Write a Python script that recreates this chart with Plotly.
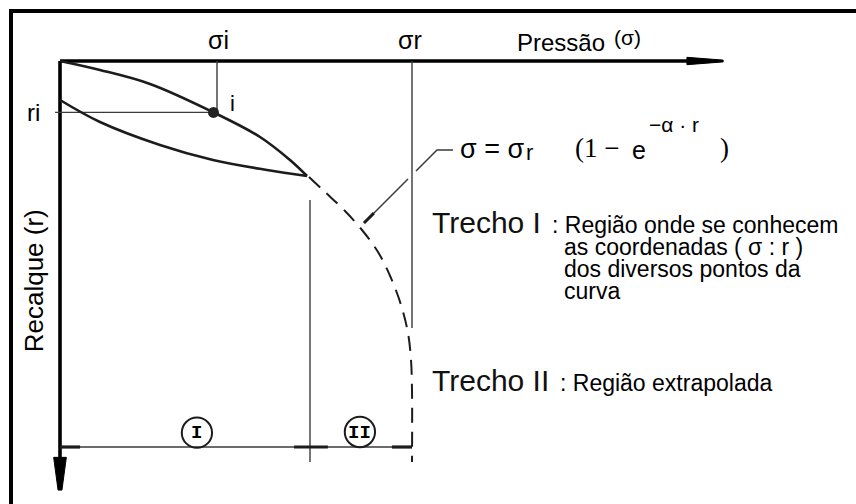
import plotly.graph_objects as go

# Diagram units: pressure sigma scaled so that sigma_r = 100, settlement r on the same scale.
SIGMA_R = 100.0
SIGMA_I = 44.6
R_I = 14.6

# Loading branch (sigma, r)
load_sigma = [0.0, 11.36, 25.57, 43.6, 56.82, 65.34, 70.17]
load_r = [0.0, 2.56, 6.53, 14.6, 21.59, 28.13, 32.67]

# Lower branch closing back to the settlement axis
lower_sigma = [0.0, 11.36, 28.41, 43.47, 58.81, 70.17]
lower_r = [11.08, 17.33, 23.86, 28.13, 30.97, 32.67]

# Extrapolated branch sigma = sigma_r (1 - e^(-alpha r))
extra_sigma = [70.74, 75.28, 80.97, 85.80, 90.34, 94.03, 96.88, 98.86, 99.72, 100.0, 100.0]
extra_r = [32.95, 37.22, 42.61, 48.01, 54.26, 61.65, 69.32, 77.27, 84.94, 93.47, 113.92]

# Reference lines
SIGMA_R_LINE_END = 75.85
BOUNDARY_SIGMA = 71.02
BOUNDARY_R = [39.5, 113.9]
DIM_R = 109.66
dim_ticks = [[0.0, 5.7], [66.5, 76.1], [94.3, 100.0]]

# Leader from the curve to the equation
leader_a_sigma = [111.65, 107.1, 101.14]
leader_a_r = [25.28, 25.28, 31.25]
leader_b_sigma = [98.86, 86.36]
leader_b_r = [33.52, 46.02]

# Axis extents
X_AXIS_END = 178.1
X_ARROW_TIP = 188.4
Y_AXIS_END = 112.6
Y_ARROW_TIP = 121.9

# Region markers
regions = [("I", 38.9, 105.6), ("II", 85.2, 105.4)]
CIRCLE_R = 4.3

# Description lines of the first stretch
trecho1_lines = ["as coordenadas ( σ : r )", "dos diversos pontos da", "curva"]

PX = 3.52  # pixels per diagram unit
X0, Y0 = 60, 61

fig = go.Figure()

INK = "#1c1c1c"
THIN = "#3a3a3a"


def line(xs, ys, width, color=INK, dash=None, shape="linear"):
    fig.add_trace(go.Scatter(x=xs, y=ys, mode="lines", hoverinfo="skip",
                             line=dict(color=color, width=width, dash=dash, shape=shape)))


# axes
line([0, X_AXIS_END], [0, 0], 3.6, "black")
line([0, 0], [0, Y_AXIS_END], 3.6, "black")
fig.add_trace(go.Scatter(x=[X_AXIS_END, X_ARROW_TIP, X_ARROW_TIP, X_AXIS_END, X_AXIS_END],
                         y=[-1.05, -0.25, 0.25, 1.05, -1.05], mode="lines", fill="toself",
                         fillcolor="black", line=dict(color="black", width=1), hoverinfo="skip"))
fig.add_trace(go.Scatter(x=[-1.8, 1.8, 0.55, -0.55, -1.8],
                         y=[Y_AXIS_END, Y_AXIS_END, Y_ARROW_TIP, Y_ARROW_TIP, Y_AXIS_END],
                         mode="lines", fill="toself", fillcolor="black",
                         line=dict(color="black", width=1), hoverinfo="skip"))

# guide lines
line([SIGMA_I, SIGMA_I], [0, R_I], 1.4, THIN)
line([-1.4, SIGMA_I], [R_I, R_I], 1.4, THIN)
line([SIGMA_R, SIGMA_R], [0, SIGMA_R_LINE_END], 1.4, THIN)
line([BOUNDARY_SIGMA, BOUNDARY_SIGMA], BOUNDARY_R, 1.4, THIN)
line([0, SIGMA_R], [DIM_R, DIM_R], 1.4, THIN)
for a, b in dim_ticks:
    line([a, b], [DIM_R, DIM_R], 3.2, INK)

# curves
line(load_sigma, load_r, 2.6, INK, shape="spline")
line(lower_sigma, lower_r, 2.6, INK, shape="spline")
line(extra_sigma, extra_r, 2.0, INK, dash="15px,9px", shape="spline")

# leader
line(leader_a_sigma, leader_a_r, 1.5, THIN)
line(leader_b_sigma, leader_b_r, 1.5, THIN)
line([leader_b_sigma[1], leader_b_sigma[1] + 2.8], [leader_b_r[1], leader_b_r[1] - 2.8], 3.0, INK)

# point i
fig.add_trace(go.Scatter(x=[SIGMA_I - 1.0], y=[R_I], mode="markers", hoverinfo="skip",
                         marker=dict(size=11, color="#222")))

SANS = "Liberation Sans, Arial, sans-serif"
SERIF = "Liberation Serif, Times New Roman, serif"
MONO = "Liberation Mono, Courier New, monospace"


def text(x, y, s, size, family=SANS, xanchor="center", angle=0, color="black"):
    fig.add_annotation(x=x, y=y, text=s, showarrow=False, xanchor=xanchor, yanchor="middle",
                       textangle=angle, font=dict(family=family, size=size, color=color))


text(SIGMA_I + 0.3, -5.9, "σi", 25)
text(SIGMA_R - 0.6, -5.9, "σr", 25)
text(142.4, -5.2, "Pressão", 24)
text(156.8, -6.6, "(σ)", 21, xanchor="left")
text(-7.6, R_I + 0.1, "ri", 24)
text(48.9, 12.2, "i", 22)
text(-7.3, 62.5, "Recalque (r)", 26, angle=-90)

# equation
text(113.1, 25.0, "σ = σ", 27, xanchor="left")
text(131.9, 26.0, "r", 22, xanchor="left")
text(145.6, 24.6, "(1 −", 27, family=SERIF, xanchor="left")
text(161.9, 25.4, "e", 25, xanchor="left")
text(166.8, 18.0, "−α · r", 21, xanchor="left")
text(187.0, 24.6, ")", 27, family=SERIF, xanchor="left")

# region descriptions
text(105.1, 46.0, "Trecho I", 30, xanchor="left", color="#111")
text(139.3, 46.6, ": Região onde se conhecem", 23, xanchor="left")
for k, s in enumerate(trecho1_lines):
    text(142.6, 52.9 + 6.25 * k, s, 23, xanchor="left")
text(105.1, 90.9, "Trecho II", 30, xanchor="left", color="#111")
text(141.6, 91.6, ": Região extrapolada", 23, xanchor="left")

# circled region numbers
shapes = []
for label, cx, cy in regions:
    shapes.append(dict(type="circle", xref="x", yref="y", x0=cx - CIRCLE_R, x1=cx + CIRCLE_R,
                       y0=cy - CIRCLE_R, y1=cy + CIRCLE_R, line=dict(color=INK, width=2)))
    text(cx, cy + 0.2, "<b>" + label + "</b>", 19, family=MONO)

# frame (top and left edges)
W, H = 856, 504
shapes.append(dict(type="line", xref="paper", yref="paper", x0=9 / W, x1=1, y0=1 - 11 / H, y1=1 - 11 / H,
                   line=dict(color="black", width=4)))
shapes.append(dict(type="line", xref="paper", yref="paper", x0=11 / W, x1=11 / W, y0=0, y1=1 - 9 / H,
                   line=dict(color="black", width=4)))

fig.update_layout(
    width=W, height=H, margin=dict(l=0, r=0, t=0, b=0),
    paper_bgcolor="white", plot_bgcolor="white", showlegend=False, shapes=shapes,
    xaxis=dict(range=[(0 - X0) / PX, (W - X0) / PX], visible=False, fixedrange=True),
    yaxis=dict(range=[(H - Y0) / PX, (0 - Y0) / PX], visible=False, fixedrange=True),
)

fig.write_html("out.html")
